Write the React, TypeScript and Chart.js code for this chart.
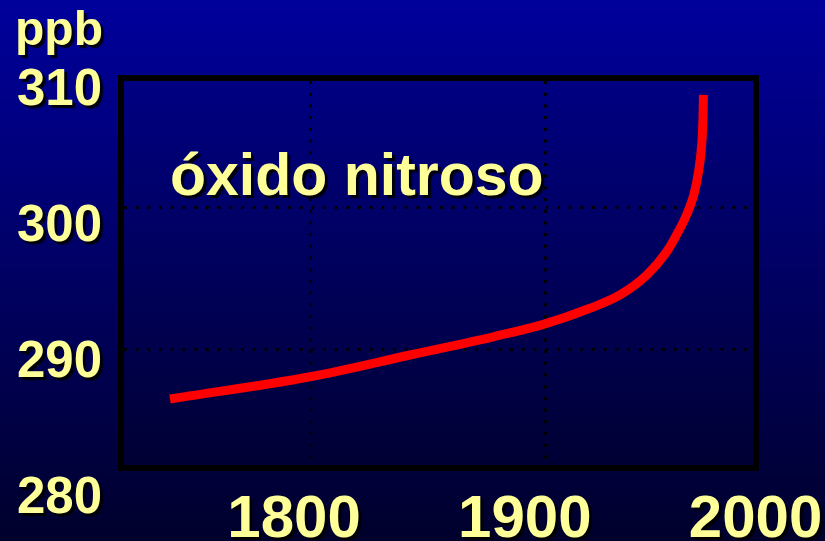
import { useEffect, useRef } from 'react';
import { Chart, registerables } from 'chart.js';

Chart.register(...registerables);

// ---- data ----
const years = [1740.4, 1800, 1842.6, 1878, 1899.3, 1919.1, 1931.9, 1943.3, 1951.8, 1957, 1960.5, 1963.3, 1965.4, 1966.7, 1967.2, 1967.4];
const ppbValues = [286.56, 288.12, 289.65, 290.93, 291.8, 292.93, 293.87, 295.27, 296.91, 298.4, 299.6, 300.9, 302.6, 304.5, 306.2, 307.92];

const xTickLabels = [1800, 1900, 2000];
const yTickLabels = [280, 290, 300, 310];
const xGridValues = [1800, 1900];
const yGridValues = [290, 300];
const unitLabel = 'ppb';
const seriesLabel = 'óxido nitroso';

const TEXT_COLOR = '#FFFF99';
const FONT = 'Liberation Sans, Arial, sans-serif';

const decorPlugin = {
  id: 'decor',
  beforeDraw(chart: any) {
    const { ctx, width, height, chartArea } = chart;
    ctx.save();
    const g = ctx.createLinearGradient(0, 0, 0, height);
    g.addColorStop(0, '#00009c');
    g.addColorStop(1, '#00002c');
    ctx.fillStyle = g;
    ctx.fillRect(0, 0, width, height);
    const g2 = ctx.createLinearGradient(0, chartArea.top, 0, chartArea.bottom);
    g2.addColorStop(0, '#000082');
    g2.addColorStop(1, '#000034');
    ctx.fillStyle = g2;
    ctx.fillRect(chartArea.left, chartArea.top, chartArea.right - chartArea.left, chartArea.bottom - chartArea.top);
    ctx.restore();
  },
  afterDraw(chart: any) {
    const { ctx, chartArea } = chart;
    const xl = chart.scales.xl;
    const yl = chart.scales.yl;
    ctx.save();
    // plot frame
    ctx.strokeStyle = '#000000';
    ctx.lineWidth = 6;
    ctx.strokeRect(chartArea.left - 3, chartArea.top - 3, chartArea.right - chartArea.left + 6, chartArea.bottom - chartArea.top + 6);

    ctx.shadowColor = 'rgba(0,0,0,0.9)';
    ctx.shadowOffsetX = 3;
    ctx.shadowOffsetY = 3;
    ctx.shadowBlur = 1;
    ctx.fillStyle = TEXT_COLOR;
    ctx.textBaseline = 'alphabetic';

    // x tick labels
    ctx.font = `bold 60px ${FONT}`;
    ctx.textAlign = 'center';
    xTickLabels.forEach((v) => {
      ctx.fillText(String(v), xl.getPixelForValue(v), chartArea.bottom + 72);
    });

    // y tick labels
    ctx.font = `bold 51px ${FONT}`;
    ctx.textAlign = 'right';
    yTickLabels.forEach((v) => {
      ctx.fillText(String(v), chartArea.left - 22, yl.getPixelForValue(v) + 18);
    });

    // unit
    ctx.font = `bold 48px ${FONT}`;
    ctx.fillText(unitLabel, chartArea.left - 21, chartArea.top - 36);

    // series label
    ctx.font = `bold 59px ${FONT}`;
    ctx.textAlign = 'left';
    ctx.fillText(seriesLabel, chartArea.left + 46, chartArea.top + 114);
    ctx.restore();
  },
};

export default function App() {
  const ref = useRef<HTMLCanvasElement | null>(null);

  useEffect(() => {
    if (!ref.current) return;
    const chart = new Chart(ref.current, {
      type: 'line',
      data: {
        datasets: [
          {
            label: seriesLabel,
            data: years.map((x, i) => ({ x, y: ppbValues[i] })),
            borderColor: '#ff0000',
            borderWidth: 9,
            borderCapStyle: 'butt',
            pointRadius: 0,
            cubicInterpolationMode: 'monotone',
            xAxisID: 'x',
            yAxisID: 'y',
          },
        ],
      },
      options: {
        responsive: false,
        animation: false,
        layout: { padding: { left: 124, top: 81, right: 72, bottom: 76 } },
        plugins: { legend: { display: false }, tooltip: { enabled: false } },
        scales: {
          x: {
            type: 'linear',
            position: 'bottom',
            min: 1720.85,
            max: 1988.5,
            afterBuildTicks: (s: any) => {
              s.ticks = xGridValues.map((value) => ({ value }));
            },
            ticks: { display: false },
            grid: { color: '#000000', lineWidth: 3, drawTicks: false },
            border: { display: false, dash: [3, 8.7] },
          },
          y: {
            type: 'linear',
            position: 'left',
            min: 281.92,
            max: 308.9,
            afterBuildTicks: (s: any) => {
              s.ticks = yGridValues.map((value) => ({ value }));
            },
            ticks: { display: false },
            grid: { color: '#000000', lineWidth: 3, drawTicks: false },
            border: { display: false, dash: [3, 8.7] },
          },
          xl: { type: 'linear', position: 'bottom', display: false, min: 1726.3, max: 1998.9 },
          yl: { type: 'linear', position: 'left', display: false, min: 282.18, max: 310.41 },
        },
      },
      plugins: [decorPlugin],
    } as any);
    return () => chart.destroy();
  }, []);

  return (
    <div style={{ position: 'fixed', left: 0, top: 0, width: 825, height: 541 }}>
      <canvas ref={ref} width={825} height={541} style={{ display: 'block' }} />
    </div>
  );
}
